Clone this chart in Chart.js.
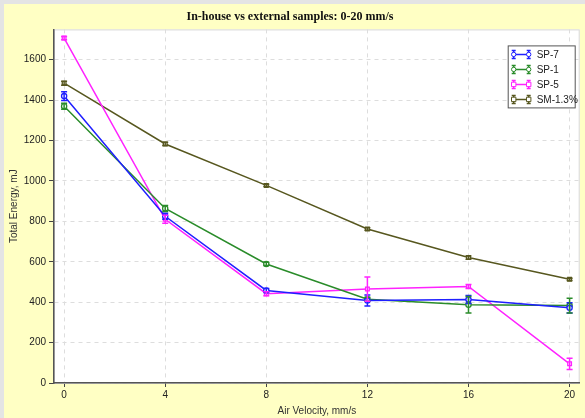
<!DOCTYPE html>
<html>
<head>
<meta charset="utf-8">
<script src="https://cdn.jsdelivr.net/npm/chart.js@4/dist/chart.umd.min.js"></script>
<style>
  html, body { margin: 0; padding: 0; background: #ffffc4; }
  #wrap { width: 585px; height: 418px; }
</style>
</head>
<body>
<div id="wrap"><canvas id="myChart" width="585" height="418"></canvas></div>
<script>
// air velocity, mm/s
const velocity = [0, 4, 8, 12, 16, 20];

// total energy, mJ
const sp7 = [1420, 825, 458, 408, 413, 372];
const sp1 = [1370, 864, 589, 415, 387, 383];
const sp5 = [1707, 810, 442, 465, 478, 95];
const sm13 = [1484, 1183, 978, 762, 621, 513];

// error (half bar height)
const sp7Err = [22, 15, 10, 27, 20, 25];
const sp1Err = [15, 15, 8, 10, 41, 37];
const sp5Err = [8, 20, 10, 60, 10, 28];
const sm13Err = [10, 8, 6, 6, 8, 6];

const xTicks = [0, 4, 8, 12, 16, 20];
const yTicks = [0, 200, 400, 600, 800, 1000, 1200, 1400, 1600];

const seriesNames = ['SP-7', 'SP-1', 'SP-5', 'SM-1.3%'];
const seriesColors = ['#1f1fff', '#2a8c2a', '#ff22ff', '#57571f'];
const seriesPoints = ['circle', 'circle', 'rect', 'rect'];
const seriesValues = [sp7, sp1, sp5, sm13];
const seriesErrors = [sp7Err, sp1Err, sp5Err, sm13Err];

const datasets = seriesNames.map((name, i) => ({
    label: name,
    data: velocity.map((x, j) => ({ x: x, y: seriesValues[i][j] })),
    errors: seriesErrors[i],
    borderColor: seriesColors[i],
    backgroundColor: seriesColors[i],
    borderWidth: 1.5,
    pointStyle: seriesPoints[i],
    pointRadius: 2.6,
    pointBorderWidth: 1.3,
    pointBackgroundColor: '#ffffff',
    pointBorderColor: seriesColors[i],
    fill: false,
    tension: 0
}));

// frame, yellow panel and white plot area
const background = {
    id: 'background',
    beforeDraw(chart) {
        const ctx = chart.ctx;
        const a = chart.chartArea;
        ctx.save();
        ctx.fillStyle = '#e4e4e4';
        ctx.fillRect(0, 0, chart.width, chart.height);
        ctx.fillStyle = '#ffffc4';
        ctx.fillRect(4, 4, chart.width - 4, chart.height - 4);
        ctx.fillStyle = '#ffffff';
        ctx.fillRect(a.left, a.top, a.right - a.left, a.bottom - a.top);
        ctx.strokeStyle = '#d8d8d8';
        ctx.lineWidth = 1;
        ctx.strokeRect(a.left + 0.5, a.top + 0.5, a.right - a.left - 1, a.bottom - a.top);
        ctx.restore();
    }
};

// vertical error bars drawn through the chart scales
const errorBars = {
    id: 'errorBars',
    afterDatasetsDraw(chart) {
        const ctx = chart.ctx;
        const yScale = chart.scales.y;
        chart.data.datasets.forEach((ds, i) => {
            const meta = chart.getDatasetMeta(i);
            ctx.save();
            ctx.strokeStyle = ds.borderColor;
            ctx.lineWidth = 1.5;
            meta.data.forEach((pt, j) => {
                const v = ds.data[j].y;
                const e = ds.errors[j];
                const top = yScale.getPixelForValue(v + e);
                const bot = yScale.getPixelForValue(v - e);
                ctx.beginPath();
                ctx.moveTo(pt.x, top);
                ctx.lineTo(pt.x, bot);
                ctx.moveTo(pt.x - 3, top);
                ctx.lineTo(pt.x + 3, top);
                ctx.moveTo(pt.x - 3, bot);
                ctx.lineTo(pt.x + 3, bot);
                ctx.stroke();
            });
            ctx.restore();
        });
    }
};

// boxed legend in the upper right corner of the plot
const boxLegend = {
    id: 'boxLegend',
    afterDraw(chart) {
        const ctx = chart.ctx;
        const a = chart.chartArea;
        const x0 = a.right - 72, y0 = a.top + 16, w = 67, h = 62;
        ctx.save();
        ctx.fillStyle = '#ffffff';
        ctx.fillRect(x0, y0, w, h);
        ctx.strokeStyle = '#555555';
        ctx.lineWidth = 1;
        ctx.strokeRect(x0 + 0.5, y0 + 0.5, w, h);
        ctx.font = '10px "Liberation Sans", Arial, sans-serif';
        ctx.textBaseline = 'middle';
        chart.data.datasets.forEach((ds, i) => {
            const cy = y0 + 9 + i * 15;
            const lx = x0 + 6, rx = x0 + 21;
            ctx.strokeStyle = ds.borderColor;
            ctx.lineWidth = 1.5;
            ctx.beginPath();
            ctx.moveTo(lx, cy); ctx.lineTo(rx, cy);
            [lx, rx].forEach(px => {
                ctx.moveTo(px, cy - 4); ctx.lineTo(px, cy + 4);
                ctx.moveTo(px - 2, cy - 4); ctx.lineTo(px + 2, cy - 4);
                ctx.moveTo(px - 2, cy + 4); ctx.lineTo(px + 2, cy + 4);
            });
            ctx.stroke();
            ctx.lineWidth = 1;
            ctx.fillStyle = '#ffffff';
            [lx, rx].forEach(px => {
                ctx.beginPath();
                if (ds.pointStyle === 'circle') {
                    ctx.arc(px, cy, 2.2, 0, Math.PI * 2);
                } else {
                    ctx.rect(px - 2.2, cy - 2.2, 4.4, 4.4);
                }
                ctx.fill();
                ctx.stroke();
            });
            ctx.fillStyle = '#222222';
            ctx.fillText(ds.label, x0 + 29, cy + 0.5);
        });
        ctx.restore();
    }
};

const ctx = document.getElementById('myChart').getContext('2d');
const myChart = new Chart(ctx, {
    type: 'line',
    data: { datasets: datasets },
    options: {
        responsive: false,
        animation: false,
        layout: { padding: { left: 0, right: 5, top: 0, bottom: 0 } },
        plugins: {
            legend: { display: false },
            tooltip: { enabled: false },
            title: {
                display: true,
                text: 'In-house vs external samples: 0-20 mm/s',
                color: '#111111',
                font: { family: '"Liberation Serif", "Times New Roman", serif', size: 12, weight: 'bold' },
                padding: { top: 10, bottom: 5 }
            }
        },
        scales: {
            x: {
                type: 'linear',
                min: -0.4,
                max: 20.4,
                afterBuildTicks: axis => { axis.ticks = xTicks.map(v => ({ value: v })); },
                afterFit: axis => { axis.height = 35; },
                ticks: {
                    color: '#222222',
                    font: { family: '"Liberation Sans", Arial, sans-serif', size: 10 },
                    padding: 2,
                    maxRotation: 0,
                    callback: v => String(v)
                },
                grid: {
                    color: '#dddddd',
                    tickColor: '#444444',
                    tickLength: 4,
                    tickWidth: 1
                },
                border: { color: '#555555', width: 1.5, dash: [4, 4] },
                title: {
                    display: true,
                    text: 'Air Velocity, mm/s',
                    color: '#333333',
                    font: { family: '"Liberation Sans", Arial, sans-serif', size: 10 },
                    padding: { top: 0, bottom: 1 }
                }
            },
            y: {
                type: 'linear',
                min: 0,
                max: 1750,
                afterBuildTicks: axis => { axis.ticks = yTicks.map(v => ({ value: v })); },
                afterFit: axis => { axis.width = 54; },
                ticks: {
                    color: '#222222',
                    font: { family: '"Liberation Sans", Arial, sans-serif', size: 10 },
                    padding: 3,
                    callback: v => String(v)
                },
                grid: {
                    color: '#dddddd',
                    tickColor: '#444444',
                    tickLength: 5,
                    tickWidth: 1
                },
                border: { color: '#555555', width: 1.5, dash: [4, 4] },
                title: {
                    display: true,
                    text: 'Total Energy, mJ',
                    color: '#333333',
                    font: { family: '"Liberation Sans", Arial, sans-serif', size: 10 },
                    padding: { top: 8, bottom: 0 }
                }
            }
        }
    },
    plugins: [background, errorBars, boxLegend]
});
</script>
</body>
</html>
